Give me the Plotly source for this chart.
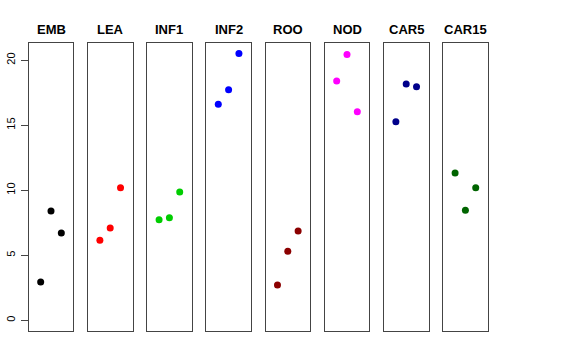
import plotly.graph_objects as go

panels = ["EMB", "LEA", "INF1", "INF2", "ROO", "NOD", "CAR5", "CAR15"]
colors = ["#000000", "#FF0000", "#00CD00", "#0000FF", "#8B0000", "#FF00FF", "#00008B", "#006400"]
x_pos = [1, 2, 3]
values = [
    [2.94, 8.40, 6.71],
    [6.15, 7.09, 10.19],
    [7.73, 7.88, 9.86],
    [16.62, 17.72, 20.51],
    [2.71, 5.32, 6.86],
    [18.39, 20.44, 16.03],
    [15.26, 18.16, 17.95],
    [11.32, 8.47, 10.19],
]
y_ticks = [0, 5, 10, 15, 20]

W, H = 576, 360
left0, pw, step = 28.7, 44.6, 59.2
top_px, bot_px = 43, 331

fig = go.Figure()
layout = dict(width=W, height=H, margin=dict(l=0, r=0, t=0, b=0),
              paper_bgcolor="white", plot_bgcolor="white", showlegend=False)
annotations = []
for i, (name, col, vals) in enumerate(zip(panels, colors, values)):
    n = "" if i == 0 else str(i + 1)
    x0 = left0 + i * step
    x1 = x0 + pw
    fig.add_trace(go.Scatter(x=x_pos, y=vals, mode="markers",
                             marker=dict(color=col, size=7),
                             xaxis="x" + n, yaxis="y" + n, hoverinfo="skip"))
    layout["xaxis" + n] = dict(domain=[x0 / W, x1 / W], range=[-0.16, 4.16],
                               showline=True, mirror=True, linecolor="#444", linewidth=1,
                               showgrid=False, zeroline=False, showticklabels=False,
                               ticks="", anchor="y" + n, fixedrange=True)
    ya = dict(domain=[(H - bot_px) / H, (H - top_px) / H], range=[-0.82, 21.32],
              showline=True, mirror=True, linecolor="#444", linewidth=1,
              showgrid=False, zeroline=False, anchor="x" + n, fixedrange=True)
    if i == 0:
        ya.update(tickvals=y_ticks, ticktext=[str(v) for v in y_ticks], ticks="outside",
                  ticklen=7, tickcolor="#444", tickangle=-90,
                  tickfont=dict(family="Liberation Sans, Arial, sans-serif", size=11, color="black"),
                  ticklabelstandoff=1)
    else:
        ya.update(showticklabels=False, ticks="")
    layout["yaxis" + n] = ya
    annotations.append(dict(text="<b>" + name + "</b>", x=(x0 + x1) / 2 / W, y=(H - 29) / H,
                            xref="paper", yref="paper", showarrow=False,
                            xanchor="center", yanchor="middle",
                            font=dict(family="Liberation Sans, Arial, sans-serif", size=13, color="black")))
layout["annotations"] = annotations
fig.update_layout(**layout)
fig.write_html("out.html", config={"displayModeBar": False, "staticPlot": True},
               post_script="document.body.style.margin='0';document.body.style.padding='0';")
